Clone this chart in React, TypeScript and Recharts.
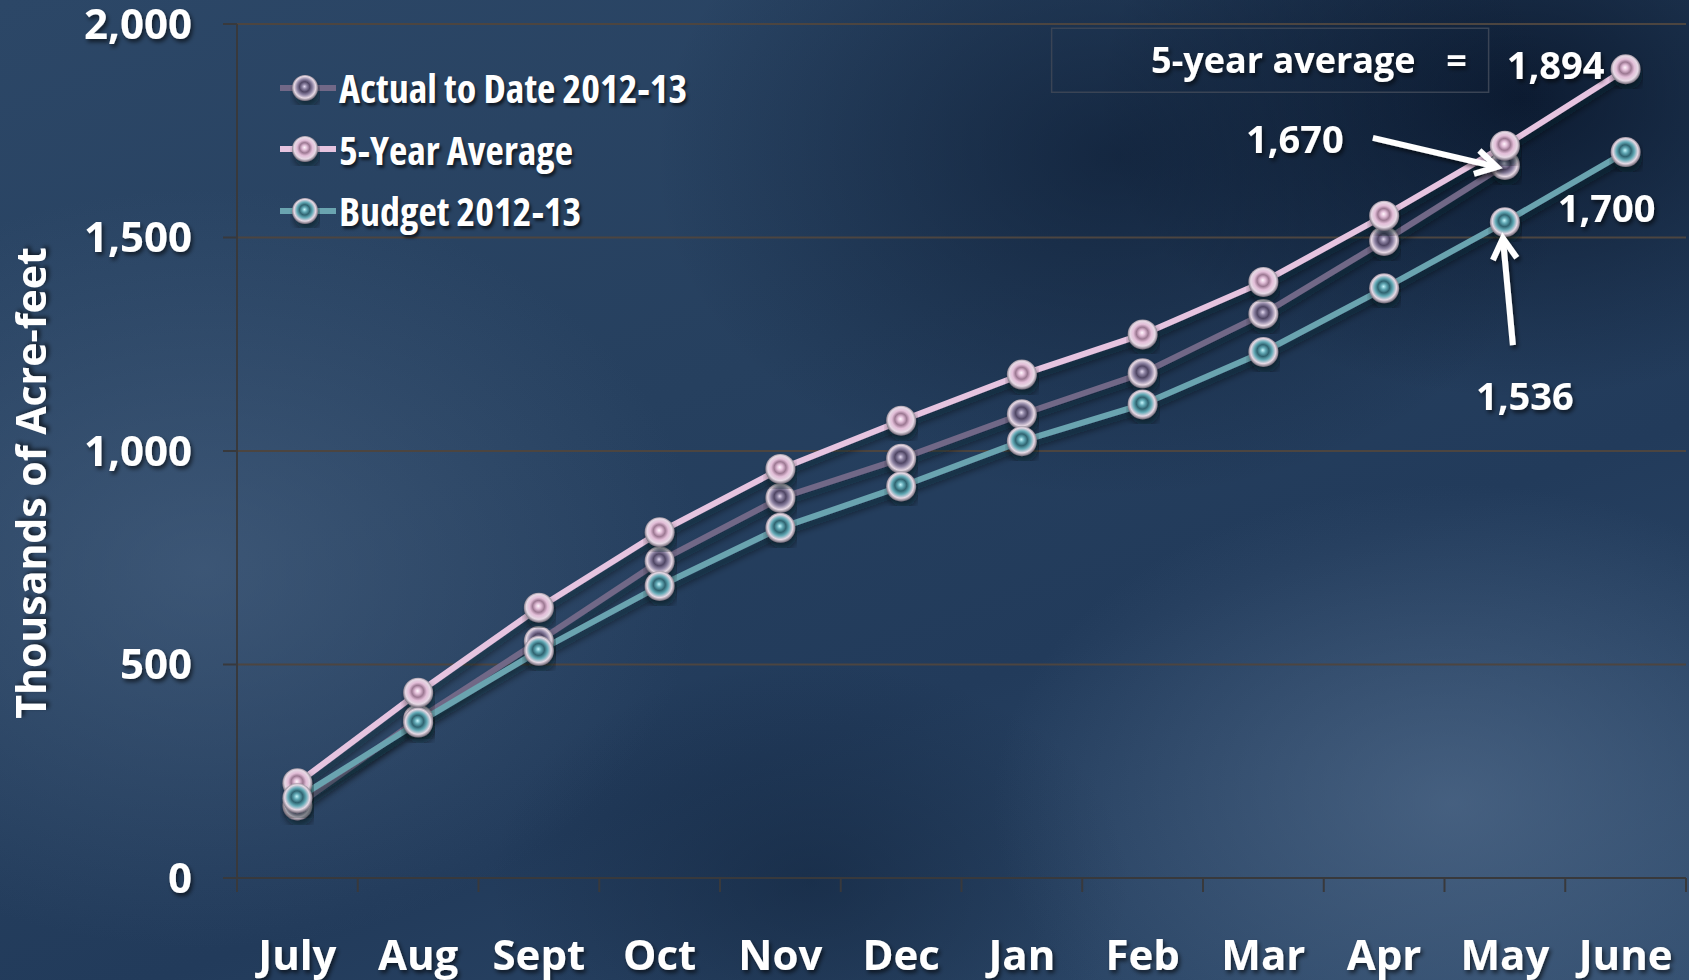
import React from "react";
import { LineChart, Line, XAxis, YAxis, CartesianGrid, LabelList } from "recharts";

// ─── Data ─────────────────────────────────────────────────────────────────────

const MONTHS = ["July", "Aug", "Sept", "Oct", "Nov", "Dec", "Jan", "Feb", "Mar", "Apr", "May", "June"];
const ACTUAL = [170, 372, 555, 742, 890, 982, 1086, 1182, 1321, 1492, 1670, null];
const FIVE_YEAR = [222, 434, 633, 810, 958, 1071, 1179, 1273, 1396, 1551, 1715, 1894];
const BUDGET = [187, 364, 532, 684, 820, 917, 1023, 1109, 1232, 1381, 1536, 1700];
const Y_TICKS = [0, 500, 1000, 1500, 2000];

const data = MONTHS.map((m, i) => ({
  month: m,
  actual: ACTUAL[i],
  fiveYear: FIVE_YEAR[i],
  budget: BUDGET[i],
}));

// ─── Styles ───────────────────────────────────────────────────────────────────

// Open Sans has narrower faces picked by font-stretch; they stand in for Calibri.
const FONT = "'Open Sans', 'DejaVu Sans Condensed', sans-serif";
const AXIS_STROKE = "#38393c";
const GRID_STROKE = "#4c4540";
const HALF_BAND = 60.375; // half of one month's slot on the x axis

const SERIES = {
  actual: { line: "#716887", base: "#8c82a2", dark: "#4f4664", light: "#e2d8ee" },
  fiveYear: { line: "#e6c4e0", base: "#e2bed8", dark: "#9c7892", light: "#fff6fc" },
  budget: { line: "#6aa4b0", base: "#63aab6", dark: "#2f6370", light: "#c4f6fc" },
};

const text = (stretch: string) => ({
  fill: "#ffffff",
  fontFamily: FONT,
  fontWeight: 700,
  style: { fontStretch: stretch },
});

function fmt(v: number) {
  return v.toLocaleString("en-US");
}

// ─── Pieces ───────────────────────────────────────────────────────────────────

function Defs() {
  return (
    <svg style={{ position: "absolute", width: 0, height: 0 }}>
      <defs>
        <filter id="ts" x="-20%" y="-20%" width="150%" height="160%">
          <feDropShadow dx="2" dy="3" stdDeviation="2" floodColor="#000" floodOpacity="0.6" />
        </filter>
        <filter id="lineShadow" x="-5%" y="-5%" width="110%" height="120%">
          <feDropShadow dx="2" dy="6" stdDeviation="3.5" floodColor="#040b16" floodOpacity="0.55" />
        </filter>
        {Object.entries(SERIES).map(([k, c]) => (
          <radialGradient key={k} id={`bead-${k}`} cx="50%" cy="48%" r="52%" fx="48%" fy="44%">
            <stop offset="0%" stopColor={c.light} />
            <stop offset="18%" stopColor={c.base} />
            <stop offset="38%" stopColor={c.dark} />
            <stop offset="58%" stopColor={c.base} />
            <stop offset="80%" stopColor="#e7d9e5" />
            <stop offset="100%" stopColor="#6d6774" />
          </radialGradient>
        ))}
      </defs>
    </svg>
  );
}

function Bead({ cx, cy, kind, r = 15 }: { cx?: number; cy?: number; kind: string; r?: number }) {
  if (cx == null || cy == null || isNaN(cx) || isNaN(cy)) return null;
  return (
    <g filter="url(#lineShadow)">
      <circle cx={cx} cy={cy} r={r} fill={`url(#bead-${kind})`} />
    </g>
  );
}

function dotFor(kind: string) {
  return (props: any) => {
    if (props.value == null) return <g key={`d-${kind}-${props.index}`} />;
    return <Bead key={`d-${kind}-${props.index}`} cx={props.cx} cy={props.cy} kind={kind} />;
  };
}

function Arrow({ x1, y1, x2, y2 }: { x1: number; y1: number; x2: number; y2: number }) {
  const a = Math.atan2(y2 - y1, x2 - x1);
  const h = 24;
  const s = Math.PI / 6;
  const p1 = [x2 - h * Math.cos(a - s), y2 - h * Math.sin(a - s)];
  const p2 = [x2 - h * Math.cos(a + s), y2 - h * Math.sin(a + s)];
  return (
    <g stroke="#ffffff" strokeWidth={6} fill="none" filter="url(#ts)">
      <path d={`M${x1},${y1} L${x2},${y2}`} />
      <path d={`M${p1[0]},${p1[1]} L${x2},${y2} L${p2[0]},${p2[1]}`} strokeLinejoin="miter" />
    </g>
  );
}

function Note({ x, y, children, anchor = "middle", size = 38 }: any) {
  return (
    <text x={x} y={y} textAnchor={anchor} dominantBaseline="central" fontSize={size} filter="url(#ts)" {...text("100%")}>
      {children}
    </text>
  );
}

function actualLabel(props: any) {
  const { x, y, index, value } = props;
  if (index !== 10 || value == null) return null;
  return (
    <g key="lbl-actual">
      <Note x={x - 210} y={y - 27}>{fmt(value)}</Note>
      <Arrow x1={x - 132} y1={y - 27} x2={x - 8} y2={y + 2} />
    </g>
  );
}

function fiveYearLabel(props: any) {
  const { x, y, index, value } = props;
  if (index !== 11) return null;
  return (
    <g key="lbl-five">
      <rect x={x - 574} y={y - 41} width={437} height={64} fill="none" stroke="#3a4455" strokeWidth={1.5} />
      <Note x={x - 210} y={y - 10} anchor="end" size={36}>5-year average</Note>
      <Note x={x - 169} y={y - 10} size={36}>=</Note>
      <Note x={x - 70} y={y - 5}>{fmt(value)}</Note>
    </g>
  );
}

function budgetLabel(props: any) {
  const { x, y, index, value } = props;
  if (index === 10) {
    return (
      <g key="lbl-b10">
        <Arrow x1={x + 8} y1={y + 123} x2={x - 2} y2={y + 16} />
        <Note x={x + 20} y={y + 173}>{fmt(value)}</Note>
      </g>
    );
  }
  if (index === 11) {
    return (
      <g key="lbl-b11">
        <Note x={x - 19} y={y + 55}>{fmt(value)}</Note>
      </g>
    );
  }
  return null;
}

function MonthTick(props: any) {
  const { x, y, payload, index } = props;
  return (
    <g>
      <line x1={x - HALF_BAND} y1={y} x2={x - HALF_BAND} y2={y + 14} stroke={AXIS_STROKE} strokeWidth={2} />
      {index === MONTHS.length - 1 && (
        <line x1={x + HALF_BAND} y1={y} x2={x + HALF_BAND} y2={y + 14} stroke={AXIS_STROKE} strokeWidth={2} />
      )}
      <text x={x} y={y + 75} textAnchor="middle" dominantBaseline="central" fontSize={42} filter="url(#ts)" {...text("100%")}>
        {payload.value}
      </text>
    </g>
  );
}

const LEGEND_ITEMS = [
  { key: "actual", label: "Actual to Date 2012-13" },
  { key: "fiveYear", label: "5-Year Average" },
  { key: "budget", label: "Budget 2012-13" },
];

function LegendBox() {
  return (
    <div style={{ position: "absolute", left: 278, top: 57, fontFamily: FONT, fontStretch: "75%" }}>
      {LEGEND_ITEMS.map((it) => {
        const c = (SERIES as any)[it.key];
        return (
          <div key={it.key} style={{ display: "flex", alignItems: "center", height: 61.5 }}>
            <svg width={60} height={32} style={{ overflow: "visible" }}>
              <line x1={2} y1={16} x2={58} y2={16} stroke={c.line} strokeWidth={6} />
              <Bead cx={27} cy={16} kind={it.key} r={13} />
            </svg>
            <span
              style={{
                color: "#fff",
                fontWeight: 700,
                fontSize: 40,
                marginLeft: 1,
                textShadow: "2px 3px 3px rgba(0,0,0,0.6)",
                whiteSpace: "nowrap",
              }}
            >
              {it.label}
            </span>
          </div>
        );
      })}
    </div>
  );
}

// ─── Chart ────────────────────────────────────────────────────────────────────

const BACKGROUND = [
  "radial-gradient(ellipse 460px 340px at 66% 16%, rgba(8,22,44,0.6), rgba(8,22,44,0) 100%)",
  "radial-gradient(ellipse 420px 300px at 90% 10%, rgba(6,18,38,0.8), rgba(6,18,38,0) 100%)",
  "radial-gradient(ellipse 500px 380px at 12% 58%, rgba(78,104,136,0.55), rgba(78,104,136,0) 100%)",
  "radial-gradient(ellipse 460px 320px at 86% 82%, rgba(88,114,146,0.6), rgba(88,114,146,0) 100%)",
  "radial-gradient(ellipse 320px 220px at 48% 90%, rgba(14,32,56,0.5), rgba(14,32,56,0) 100%)",
  "linear-gradient(160deg, #2c4767 0%, #26405f 40%, #223b5b 65%, #304c6d 100%)",
].join(", ");

export default function App() {
  return (
    <div style={{ position: "fixed", left: 0, top: 0, width: 1689, height: 980, background: BACKGROUND, overflow: "hidden" }}>
      <Defs />
      <LineChart width={1689} height={980} data={data} margin={{ top: 24, right: 3, bottom: 0, left: 0 }}>
        <CartesianGrid vertical={false} stroke={GRID_STROKE} strokeWidth={2} />
        <XAxis
          dataKey="month"
          height={102}
          padding={{ left: HALF_BAND, right: HALF_BAND }}
          axisLine={{ stroke: AXIS_STROKE, strokeWidth: 2 }}
          tickLine={false}
          tickSize={0}
          tickMargin={0}
          interval={0}
          tick={<MonthTick />}
        />
        <YAxis
          width={237}
          domain={[0, 2000]}
          ticks={Y_TICKS}
          tickFormatter={fmt}
          axisLine={{ stroke: AXIS_STROKE, strokeWidth: 2 }}
          tickLine={{ stroke: AXIS_STROKE, strokeWidth: 2 }}
          tickSize={14}
          tickMargin={31}
          tick={{ ...text("93%"), fontSize: 42, filter: "url(#ts)" }}
          label={({ viewBox }: any) => {
            const cx = viewBox.x + 30;
            const cy = viewBox.y + viewBox.height / 2 + 32;
            return (
              <text
                x={cx}
                y={cy}
                transform={`rotate(-90 ${cx} ${cy})`}
                textAnchor="middle"
                dominantBaseline="central"
                fontSize={41}
                filter="url(#ts)"
                {...text("100%")}
              >
                Thousands of Acre-feet
              </text>
            );
          }}
        />
        <Line
          dataKey="actual"
          stroke={SERIES.actual.line}
          strokeWidth={6}
          filter="url(#lineShadow)"
          dot={dotFor("actual")}
          activeDot={false}
          isAnimationActive={false}
        >
          <LabelList dataKey="actual" content={actualLabel} />
        </Line>
        <Line
          dataKey="fiveYear"
          stroke={SERIES.fiveYear.line}
          strokeWidth={6}
          filter="url(#lineShadow)"
          dot={dotFor("fiveYear")}
          activeDot={false}
          isAnimationActive={false}
        >
          <LabelList dataKey="fiveYear" content={fiveYearLabel} />
        </Line>
        <Line
          dataKey="budget"
          stroke={SERIES.budget.line}
          strokeWidth={6}
          filter="url(#lineShadow)"
          dot={dotFor("budget")}
          activeDot={false}
          isAnimationActive={false}
        >
          <LabelList dataKey="budget" content={budgetLabel} />
        </Line>
      </LineChart>
      <LegendBox />
    </div>
  );
}
